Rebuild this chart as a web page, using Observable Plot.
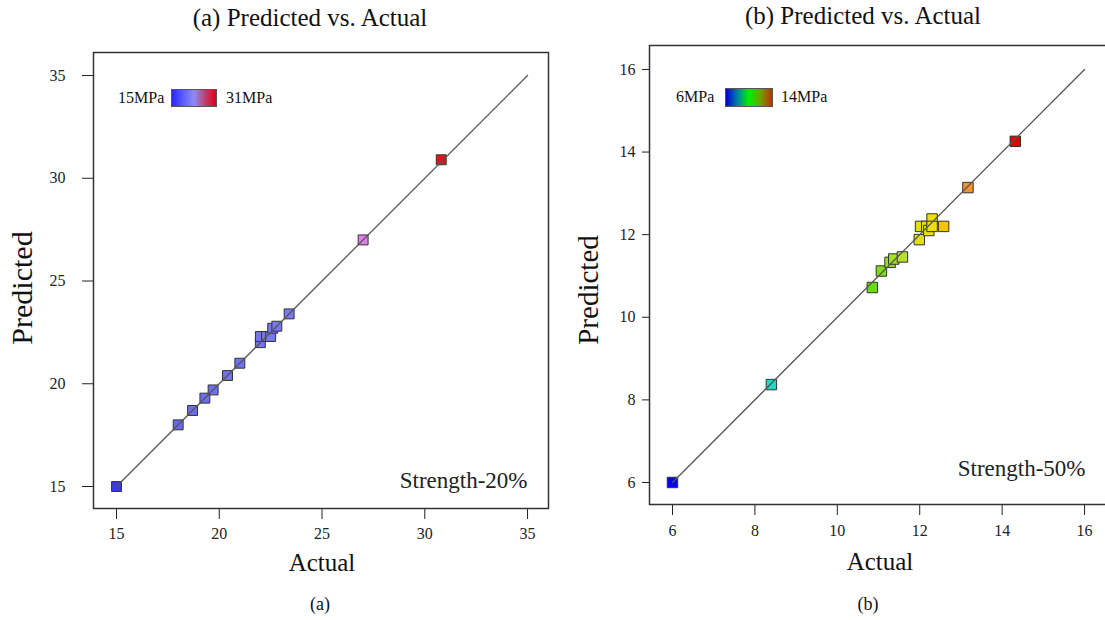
<!DOCTYPE html>
<html><head><meta charset="utf-8">
<script src="https://cdn.jsdelivr.net/npm/d3@7"></script>
<script src="https://cdn.jsdelivr.net/npm/@observablehq/plot@0.6"></script>
<style>
body{margin:0;background:#fff;}
#wrap{position:relative;width:1105px;height:620px;overflow:hidden;font-family:"Liberation Serif","Times New Roman",serif;color:#111;}
#wrap svg{position:absolute;top:0;}
#wrap svg text{font-family:"Liberation Serif","Times New Roman",serif;}
.t{position:absolute;white-space:nowrap;transform:translate(-50%,-50%);line-height:1;}
.l{position:absolute;white-space:nowrap;transform:translate(0,-50%);line-height:1;font-size:16px;}
.bar{position:absolute;border:1px solid #555;box-sizing:border-box;}
</style>
</head><body><div id="wrap"></div>
<script>
// ---- Panel (a): Strength-20% ----
const actualA    = [15, 18, 18.7, 19.3, 19.7, 20.4, 21, 22, 22, 22.3, 22.5, 22.6, 22.8, 23.4, 27, 30.8];
const predictedA = [15, 18, 18.7, 19.3, 19.7, 20.4, 21, 22, 22.3, 22.3, 22.3, 22.7, 22.8, 23.4, 27, 30.9];
const ticksA = [15, 20, 25, 30, 35];
const diagA = [15, 35];
const colorDomainA = [15, 18, 24, 27, 31];
const colorRangeA = ["#3a3ae8", "#6a6af0", "#7c7cf4", "#e07ee8", "#e01010"];
const legendA = ["#2828ff", "#5c5cff", "#8c8cf8", "#c04070", "#e00018"];
const legendLabelsA = ["15MPa", "31MPa"];

// ---- Panel (b): Strength-50% ----
const actualB    = [6, 8.4, 10.85, 11.07, 11.28, 11.37, 11.58, 11.99, 12.02, 12.17, 12.22, 12.3, 12.3, 12.58, 13.17, 14.32];
const predictedB = [6, 8.37, 10.72, 11.12, 11.33, 11.41, 11.46, 11.88, 12.2, 12.2, 12.1, 12.38, 12.2, 12.2, 13.14, 14.26];
const ticksB = [6, 8, 10, 12, 14, 16];
const diagB = [6, 16];
const colorDomainB = [6, 8.4, 10.85, 11.3, 11.6, 12.0, 12.3, 12.6, 13.2, 14.3];
const colorRangeB = ["#0000f0", "#20d8c8", "#66dd11", "#99e022", "#b8e030", "#e0e010", "#f0e000", "#f8c000", "#f09030", "#e00000"];
const legendB = ["#0000d0", "#0080a0", "#00f000", "#70a000", "#c03000"];
const legendLabelsB = ["6MPa", "14MPa"];

const dataA = actualA.map((a, i) => ({actual: a, predicted: predictedA[i]}));
const dataB = actualB.map((a, i) => ({actual: a, predicted: predictedB[i]}));

const wrap = document.getElementById("wrap");
const font = '"Liberation Serif", "Times New Roman", serif';

const plotA = Plot.plot({
  width: 560, height: 580,
  marginLeft: 93, marginRight: 12, marginTop: 52, marginBottom: 72,
  style: {fontFamily: font, fontSize: "16px", color: "#222", background: "transparent", overflow: "visible"},
  x: {domain: [13.88, 36.02], ticks: ticksA, tickSize: 11, tickPadding: 8, label: null},
  y: {domain: [13.93, 36.12], ticks: ticksA, tickSize: 11, tickPadding: 17, label: null},
  color: {type: "linear", domain: colorDomainA, range: colorRangeA, interpolate: "rgb"},
  marks: [
    Plot.frame({stroke: "#333", strokeWidth: 1.5}),
    Plot.dot(dataA, {x: "actual", y: "predicted", fill: "actual", symbol: "square", r: 5.6, stroke: "#333", strokeWidth: 1}),
    Plot.line(diagA, {x: d => d, y: d => d, stroke: "#555", strokeWidth: 1.3}),
    Plot.text(["Strength-20%"], {frameAnchor: "bottom-right", textAnchor: "end", lineAnchor: "middle", dx: -21, dy: -28, fontSize: 23, fill: "#222"})
  ]
});
plotA.style.left = "0px";
wrap.appendChild(plotA);

const plotB = Plot.plot({
  width: 560, height: 580,
  marginLeft: 89, marginRight: 10, marginTop: 45, marginBottom: 76,
  style: {fontFamily: font, fontSize: "16px", color: "#222", background: "transparent", overflow: "visible"},
  x: {domain: [5.442, 16.63], ticks: ticksB, tickSize: 11, tickPadding: 9, label: null},
  y: {domain: [5.467, 16.58], ticks: ticksB, tickSize: 7, tickPadding: 7, label: null},
  color: {type: "linear", domain: colorDomainB, range: colorRangeB, interpolate: "rgb"},
  marks: [
    Plot.frame({stroke: "#333", strokeWidth: 1.5}),
    Plot.dot(dataB, {x: "actual", y: "predicted", fill: "actual", symbol: "square", r: 5.9, stroke: "#333", strokeWidth: 1}),
    Plot.line(diagB, {x: d => d, y: d => d, stroke: "#555", strokeWidth: 1.3}),
    Plot.text(["Strength-50%"], {frameAnchor: "bottom-right", textAnchor: "end", lineAnchor: "middle", dx: -25, dy: -36, fontSize: 23, fill: "#222"})
  ]
});
plotB.style.left = "560px";
wrap.appendChild(plotB);

function txt(s, x, y, size, rot) {
  const d = document.createElement("div");
  d.className = "t";
  d.textContent = s;
  d.style.left = x + "px"; d.style.top = y + "px"; d.style.fontSize = size + "px";
  if (rot) d.style.transform = "translate(-50%,-50%) rotate(-90deg)";
  wrap.appendChild(d);
}
function lab(s, x, y) {
  const d = document.createElement("div");
  d.className = "l"; d.textContent = s;
  d.style.left = x + "px"; d.style.top = y + "px";
  wrap.appendChild(d);
}
function bar(colors, x, y, w, h) {
  const d = document.createElement("div");
  d.className = "bar";
  d.style.left = x + "px"; d.style.top = y + "px"; d.style.width = w + "px"; d.style.height = h + "px";
  d.style.background = "linear-gradient(to right," + colors.join(",") + ")";
  wrap.appendChild(d);
}

txt("(a) Predicted vs. Actual", 310, 17, 25);
txt("(b) Predicted vs. Actual", 863, 15, 25);
txt("Predicted", 22, 288, 30, true);
txt("Predicted", 588, 290, 29, true);
txt("Actual", 322, 562, 25);
txt("Actual", 880, 561, 25);
txt("(a)", 320, 604, 18);
txt("(b)", 868, 604, 18);

lab(legendLabelsA[0], 118, 98);
bar(legendA, 171, 89, 46, 18);
lab(legendLabelsA[1], 226, 98);
lab(legendLabelsB[0], 676, 97);
bar(legendB, 725, 88, 48, 19);
lab(legendLabelsB[1], 781, 97);
</script></body></html>
